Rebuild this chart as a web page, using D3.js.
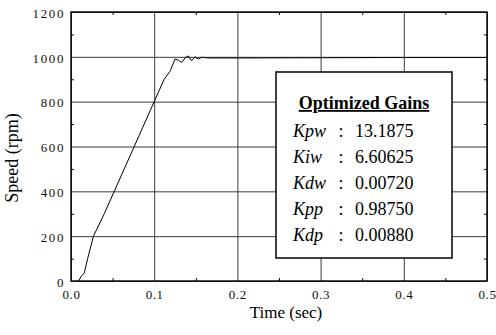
<!DOCTYPE html>
<html lang="en">
  <head>
    <meta charset="UTF-8" />
    <title>Speed response</title>
    <script src="https://d3js.org/d3.v7.min.js"></script>
    <style>
      body {
        margin: 0;
        background: #fff;
        font-family: "Liberation Serif", "Times New Roman", serif;
      }
      .tick text {
        font-family: "Liberation Serif", serif;
        font-size: 13px;
        fill: #111;
      }
      .grid line {
        stroke: #3a3a3a;
        stroke-width: 1;
      }
    </style>
  </head>
  <body>
    <div id="chart"></div>
    <script>
      // speed response
      const timeSec = [
        0.009, 0.013, 0.016, 0.02, 0.027, 0.04, 0.052, 0.064, 0.076, 0.088,
        0.1, 0.112, 0.119, 0.125, 0.129, 0.133, 0.137, 0.141, 0.145, 0.149,
        0.153, 0.157, 0.165, 0.2, 0.3, 0.4, 0.5,
      ];
      const speedRpm = [
        0, 25, 35, 100, 200, 300, 400, 500, 600, 700, 800, 900, 935, 990, 985,
        975, 995, 1004, 982, 1000, 990, 998, 995, 995, 996, 997, 997,
      ];
      const xTicks = [0, 0.1, 0.2, 0.3, 0.4, 0.5];
      const yTicks = [0, 200, 400, 600, 800, 1000, 1200];
      const xMinor = [0.05, 0.15, 0.25, 0.35, 0.45];
      const yMinor = [100, 300, 500, 700, 900, 1100];
      const gainNames = ["Kpw", "Kiw", "Kdw", "Kpp", "Kdp"];
      const gainValues = ["13.1875", "6.60625", "0.00720", "0.98750", "0.00880"];

      const W = 496,
        H = 335;
      const margin = { top: 12, right: 9, bottom: 54, left: 71 };
      const width = W - margin.left - margin.right;
      const height = H - margin.top - margin.bottom;

      const svg = d3
        .select("#chart")
        .append("svg")
        .attr("width", W)
        .attr("height", H);
      const g = svg
        .append("g")
        .attr("transform", `translate(${margin.left},${margin.top})`);

      const x = d3.scaleLinear().domain([0, 0.5]).range([0, width]);
      const y = d3.scaleLinear().domain([0, 1200]).range([height, 0]);

      // grid
      g.append("g")
        .attr("class", "grid")
        .call(d3.axisBottom(x).tickValues(xTicks).tickSize(height).tickFormat(""))
        .call((s) => s.select(".domain").remove());
      g.append("g")
        .attr("class", "grid")
        .call(d3.axisRight(y).tickValues(yTicks).tickSize(width).tickFormat(""))
        .call((s) => s.select(".domain").remove());

      // minor ticks, inside on every side
      const minor = (axis, tr) =>
        g.append("g")
          .attr("transform", tr)
          .call(axis.tickSize(3).tickFormat(""))
          .call((s) => s.select(".domain").remove())
          .selectAll("line")
          .attr("stroke", "#111");
      minor(d3.axisTop(x).tickValues(xMinor), `translate(0,${height})`);
      minor(d3.axisBottom(x).tickValues(xMinor), "translate(0,0)");
      minor(d3.axisRight(y).tickValues(yMinor), "translate(0,0)");
      minor(d3.axisLeft(y).tickValues(yMinor), `translate(${width},0)`);

      // tick labels
      g.append("g")
        .attr("transform", `translate(0,${height})`)
        .attr("font-family", "Liberation Serif, serif")
        .call(d3.axisBottom(x).tickValues(xTicks).tickSize(0).tickPadding(9).tickFormat(d3.format(".1f")))
        .call((s) => s.select(".domain").remove())
        .selectAll("text")
        .attr("letter-spacing", "0.6px");
      g.append("g")
        .attr("font-family", "Liberation Serif, serif")
        .call(d3.axisLeft(y).tickValues(yTicks).tickSize(0).tickPadding(6).tickFormat(d3.format("d")))
        .call((s) => s.select(".domain").remove())
        .selectAll("text")
        .attr("letter-spacing", "1.6px")
        .attr("dy", "0.4em");

      // frame
      g.append("rect")
        .attr("width", width)
        .attr("height", height)
        .attr("fill", "none")
        .attr("stroke", "#000")
        .attr("stroke-width", 1.4);

      // response curve
      const line = d3
        .line()
        .x((d, i) => x(timeSec[i]))
        .y((d) => y(d));
      g.append("path")
        .datum(speedRpm)
        .attr("d", line)
        .attr("fill", "none")
        .attr("stroke", "#000")
        .attr("stroke-width", 1);

      // gains box
      const box = svg.append("g").attr("transform", "translate(276,72)");
      box.append("rect")
        .attr("width", 176)
        .attr("height", 186)
        .attr("fill", "#fff")
        .attr("stroke", "#111")
        .attr("stroke-width", 1.6);
      box.append("text")
        .attr("x", 88)
        .attr("y", 37)
        .attr("text-anchor", "middle")
        .attr("font-size", 18)
        .attr("font-weight", "bold")
        .attr("text-decoration", "underline")
        .text("Optimized Gains");
      gainNames.forEach((name, i) => {
        const yy = 65 + i * 26;
        box.append("text")
          .attr("x", 17)
          .attr("y", yy)
          .attr("font-size", 18)
          .attr("font-style", "italic")
          .text(name);
        box.append("text")
          .attr("x", 65)
          .attr("y", yy)
          .attr("font-size", 18)
          .attr("text-anchor", "middle")
          .text(":");
        box.append("text")
          .attr("x", 79)
          .attr("y", yy)
          .attr("font-size", 18)
          .text(gainValues[i]);
      });

      // axis titles
      svg.append("text")
        .attr("transform", "translate(18,158) rotate(-90)")
        .attr("text-anchor", "middle")
        .attr("font-size", 18)
        .text("Speed (rpm)");
      svg.append("text")
        .attr("x", 286)
        .attr("y", 318)
        .attr("text-anchor", "middle")
        .attr("font-size", 17)
        .text("Time (sec)");
    </script>
  </body>
</html>
